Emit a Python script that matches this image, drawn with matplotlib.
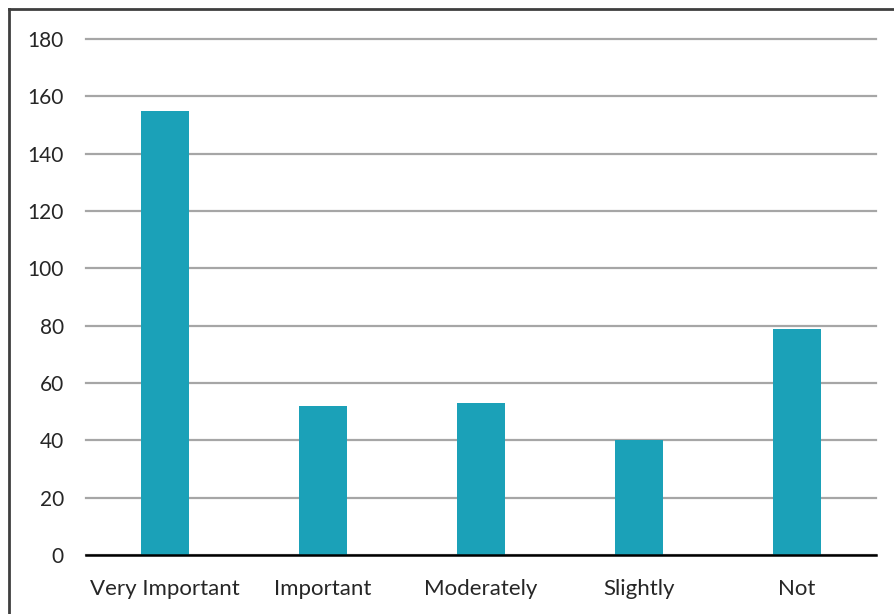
import matplotlib
matplotlib.use("Agg")
import matplotlib.pyplot as plt
from matplotlib.lines import Line2D

categories = ['Very Important', 'Important', 'Moderately', 'Slightly', 'Not']
counts = [155, 52, 53, 40, 79]
yticks = [0, 20, 40, 60, 80, 100, 120, 140, 160, 180]

plt.rcParams['font.family'] = ['Lato', 'DejaVu Sans']

W, H = 895, 614
fig = plt.figure(figsize=(W / 100, H / 100), dpi=100)
ax = fig.add_axes([86 / W, 59 / H, (876 - 86) / W, (555 - 39) / H])

x = range(len(categories))
ax.bar(x, counts, width=0.31, color='#1ba1b8', zorder=3)

ax.set_xlim(-0.5, len(categories) - 0.5)
ax.set_ylim(0, 180)
ax.set_yticks(yticks)
ax.set_xticks(list(x))
ax.set_xticklabels(categories)
ax.grid(axis='y', color='#a6a6a6', linewidth=1.6, zorder=0)
for gl in ax.get_ygridlines():
    gl.set_clip_on(False)
ax.tick_params(axis='both', length=0, colors='#262626')
ax.tick_params(axis='y', pad=16, labelsize=15)
ax.tick_params(axis='x', pad=17, labelsize=16)
for s in ['top', 'right', 'left']:
    ax.spines[s].set_visible(False)
ax.spines['bottom'].set_color('black')
ax.spines['bottom'].set_linewidth(1.8)
ax.spines['bottom'].set_zorder(4)

# outer frame (top and left only visible in the crop)
fig.add_artist(Line2D([9 / W, 1], [1 - 9 / H, 1 - 9 / H], color='#3f3f3f', lw=2, transform=fig.transFigure))
fig.add_artist(Line2D([9 / W, 9 / W], [0, 1 - 9 / H], color='#3f3f3f', lw=2, transform=fig.transFigure))

fig.savefig('out.png', dpi=100)
